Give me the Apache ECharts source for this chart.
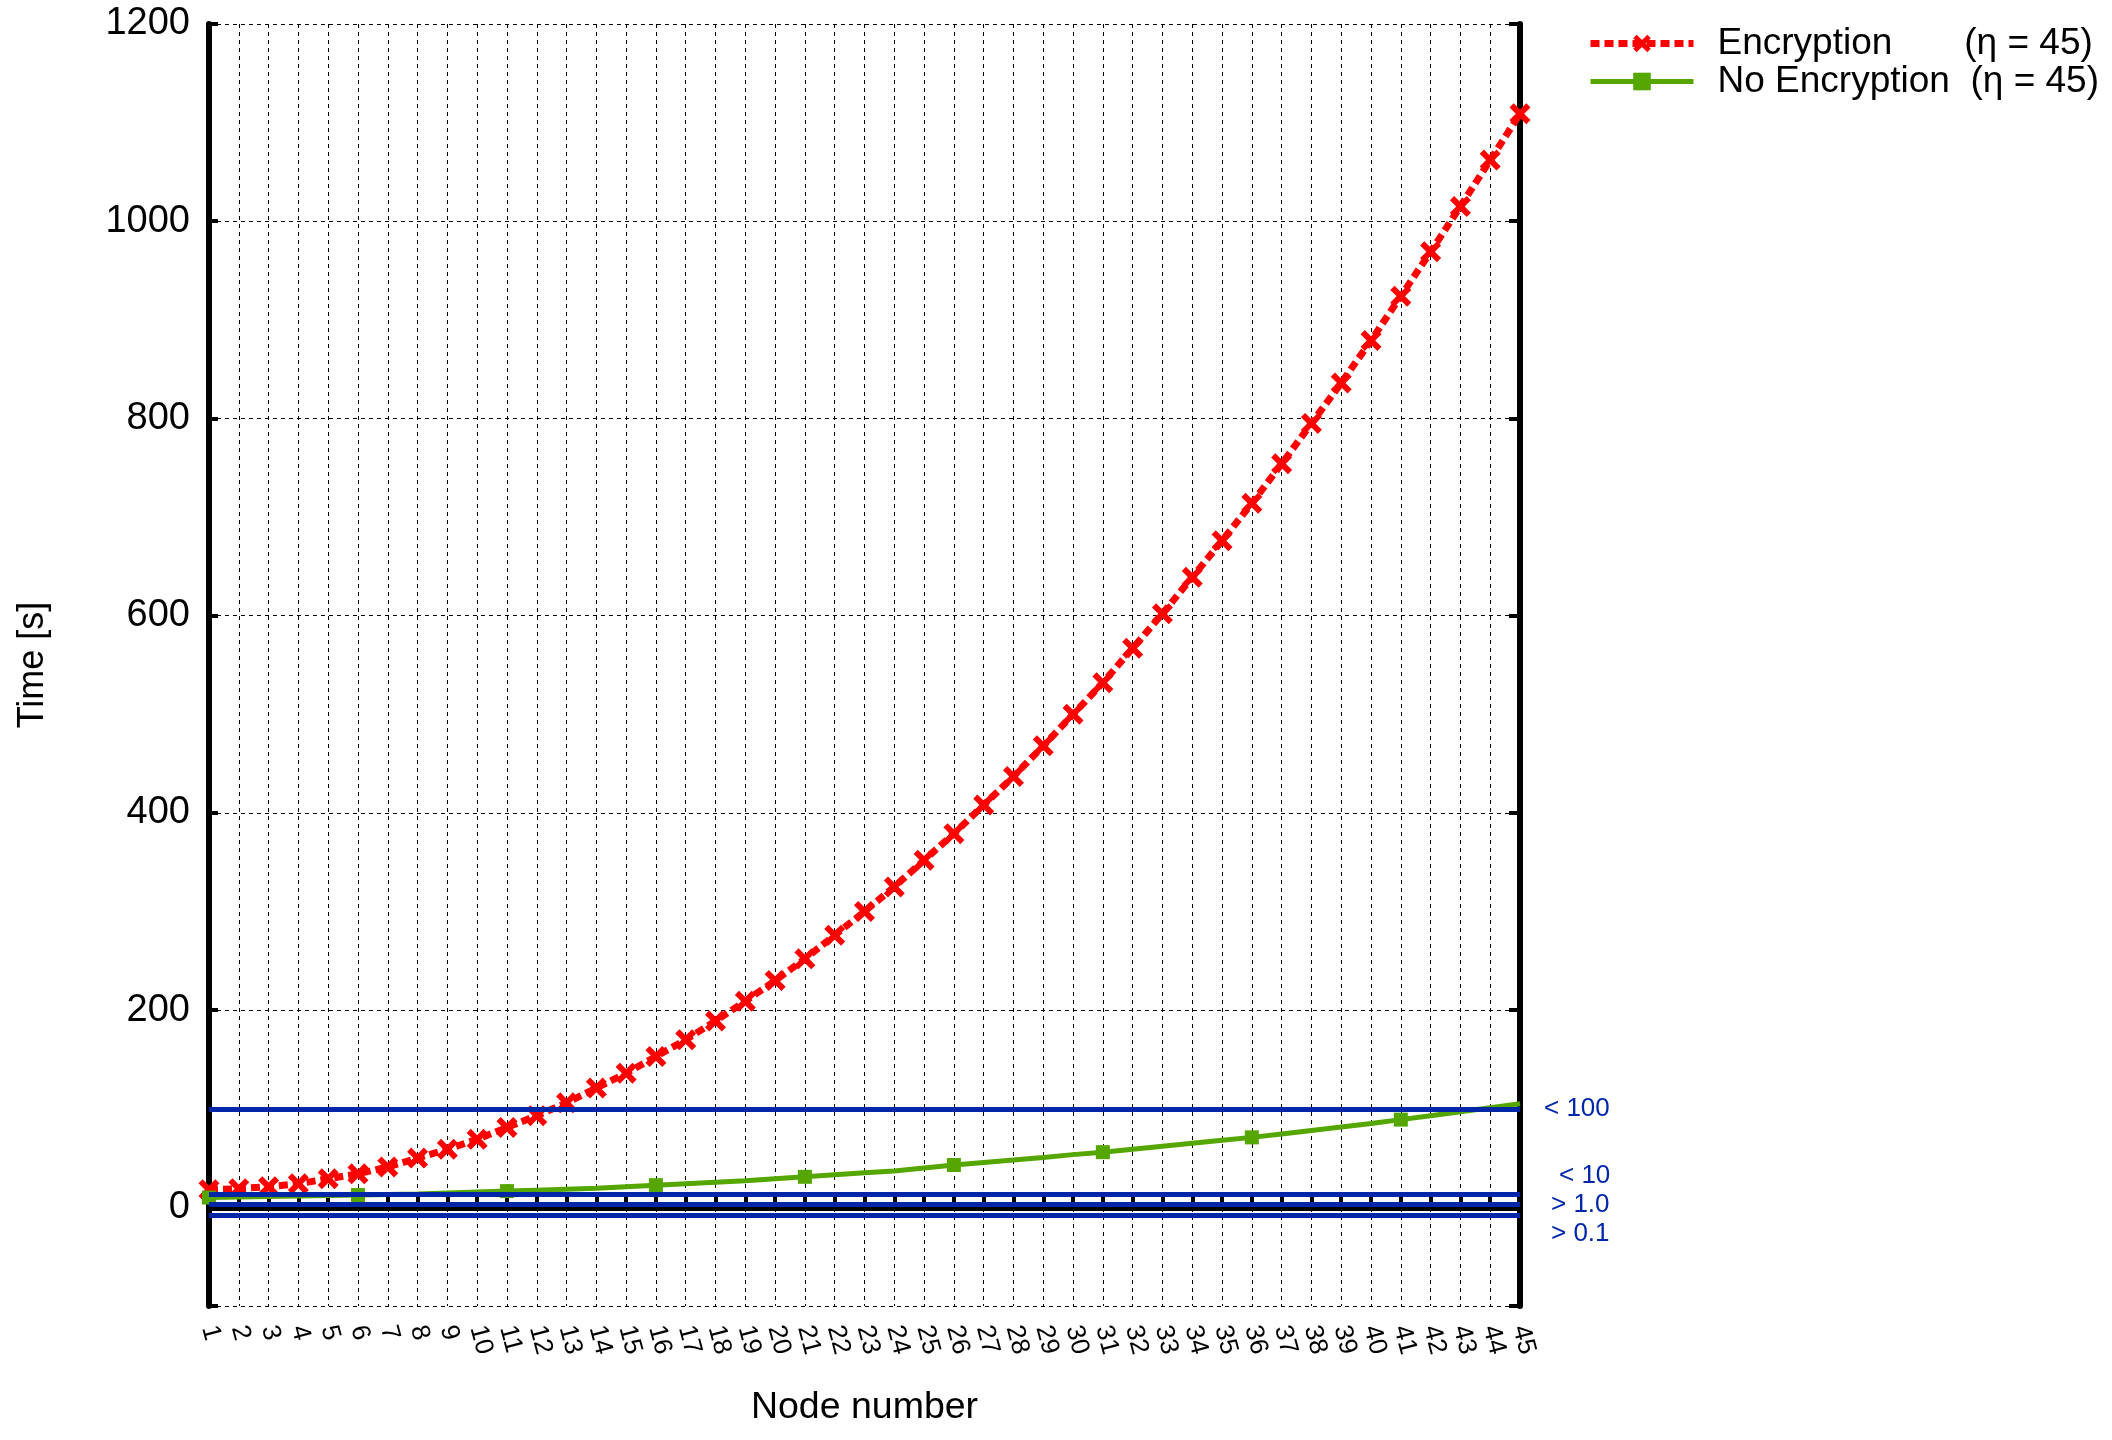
<!DOCTYPE html>
<html>
<head>
<meta charset="utf-8">
<script src="https://cdn.jsdelivr.net/npm/echarts@6/dist/echarts.min.js"></script>
<style>
html,body{margin:0;padding:0;background:#ffffff;}
#chart{width:2112px;height:1440px;}
</style>
</head>
<body>
<div id="chart"></div>
<script>
// ---- data ----
const nodes = [1,2,3,4,5,6,7,8,9,10,11,12,13,14,15,16,17,18,19,20,21,22,23,24,25,26,27,28,29,30,31,32,33,34,35,36,37,38,39,40,41,42,43,44,45];
const encryption = [18,19,21,24,29,34,41,50,59,69,81,93,106,121,136,153,170,189,209,230,252,276,300,325,352,379,408,437,468,500,532,567,602,639,676,714,754,795,836,879,924,969,1015,1062,1109];
const noEncryption = [10,10.5,11,11.5,12,12.5,13,13.5,14.5,15.5,16.5,17.5,18.5,19.5,21,22.5,24,25.5,27,29,31,33,35,37,40,43,45.5,48,50.5,53.5,56,59,62,65,68,71,74.5,78,81.5,85,89,93,97,101,105];
// threshold lines and their labels (label anchor value)
const thresholdValues = [100, 13, 3, -8];
const thresholdLabels = ['< 100', '< 10', '> 1.0', '> 0.1'];
const thresholdLabelAt = [100, 32, 3, -27];
const seriesNames = ['Encryption       (\u03b7 = 45)', 'No Encryption  (\u03b7 = 45)'];
const xTitle = 'Node number';
const yTitle = 'Time [s]';

// ---- styling ----
const FONT = 'Liberation Sans, Arial, Helvetica, sans-serif';
const BLUE = '#0026a8';
const RED = '#ff0000';
const GREEN = '#55a700';
const labelDistance = [24, 39, 31, 31];
const crossPath = 'path://M2,0 L5,3 L8,0 L10,2 L7,5 L10,8 L8,10 L5,7 L2,10 L0,8 L3,5 L0,2 Z';
const GRIDLINE = {color: '#000', width: 1, type: [4, 4]};

const chart = echarts.init(document.getElementById('chart'), null, {renderer: 'canvas'});

const lineMarks = thresholdValues.map(function (v) {
  return {yAxis: v, label: {show: false}};
});
const labelMarks = thresholdLabelAt.map(function (v, i) {
  return {
    yAxis: v,
    lineStyle: {color: 'rgba(0,0,0,0)', width: 0},
    label: {show: true, position: 'end', formatter: thresholdLabels[i], color: BLUE,
      fontSize: 26, fontFamily: FONT, distance: labelDistance[i], opacity: 1}
  };
});

const option = {
  backgroundColor: '#ffffff',
  animation: false,
  textStyle: {fontFamily: FONT, color: '#000'},
  grid: {left: 209, right: 592, top: 24, bottom: 134, containLabel: false},
  legend: {
    data: [
      {name: seriesNames[0], lineStyle: {width: 7, type: [9, 5], color: RED}},
      {name: seriesNames[1], lineStyle: {width: 5, color: GREEN}}
    ],
    orient: 'vertical',
    left: 1582,
    top: 20,
    itemWidth: 103,
    itemHeight: 22,
    itemGap: 1,
    textStyle: {fontFamily: FONT, fontSize: 37, color: '#000', padding: [0,0,0,19]}
  },
  xAxis: [
    {
      type: 'value', min: 1, max: 45, interval: 1, position: 'bottom',
      name: xTitle, nameLocation: 'middle', nameGap: 83,
      nameTextStyle: {fontFamily: FONT, fontSize: 37.5, color: '#000'},
      axisLine: {show: true, lineStyle: {color: '#000', width: 6}},
      axisTick: {show: true, inside: true, length: 13, lineStyle: {color: '#000', width: 4}},
      axisLabel: {rotate: -75, fontSize: 26, margin: 20, color: '#000', fontFamily: FONT},
      splitLine: {show: true, lineStyle: GRIDLINE}
    },
    {
      type: 'value', min: 1, max: 45, interval: 1, position: 'top',
      axisLine: {show: true, lineStyle: {color: '#000', width: 6}},
      axisTick: {show: false}, axisLabel: {show: false}, splitLine: {show: false}
    }
  ],
  yAxis: [
    {
      type: 'value', min: -100, max: 1200, splitNumber: 6, position: 'left',
      name: yTitle, nameLocation: 'middle', nameGap: 158,
      nameTextStyle: {fontFamily: FONT, fontSize: 36, color: '#000'},
      axisLine: {show: true, lineStyle: {color: '#000', width: 6}},
      axisTick: {show: true, inside: true, length: 9, lineStyle: {color: '#000', width: 4}},
      axisLabel: {fontSize: 38, margin: 19, color: '#000', fontFamily: FONT,
        formatter: function (v) { return v < 0 ? '' : String(v); }},
      splitLine: {show: true, lineStyle: GRIDLINE}
    },
    {
      type: 'value', min: -100, max: 1200, splitNumber: 6, position: 'right',
      axisLine: {show: true, lineStyle: {color: '#000', width: 6}},
      axisTick: {show: true, inside: true, length: 11, lineStyle: {color: '#000', width: 4}},
      axisLabel: {show: false}, splitLine: {show: false}
    }
  ],
  series: [
    {
      name: 'thresholds', type: 'line', data: [], z: 1, silent: true,
      xAxisIndex: 0, yAxisIndex: 0,
      markLine: {
        silent: true, symbol: ['none', 'none'],
        lineStyle: {color: BLUE, width: 5, type: 'solid'},
        emphasis: {disabled: true},
        data: lineMarks.concat(labelMarks)
      }
    },
    {
      name: seriesNames[0], type: 'line', z: 3,
      data: nodes.map(function (n, i) { return [n, encryption[i]]; }),
      symbol: crossPath, symbolSize: 21, showAllSymbol: true,
      itemStyle: {color: RED},
      lineStyle: {color: RED, width: 7, type: [9, 5]}
    },
    {
      name: seriesNames[1], type: 'line', z: 4,
      data: nodes.map(function (n, i) {
        return {value: [n, noEncryption[i]], symbol: (i % 5 === 0) ? 'rect' : 'none'};
      }),
      symbol: 'rect', symbolSize: 14, showAllSymbol: true,
      itemStyle: {color: GREEN},
      lineStyle: {color: GREEN, width: 5}
    }
  ]
};
chart.setOption(option);
</script>
</body>
</html>
